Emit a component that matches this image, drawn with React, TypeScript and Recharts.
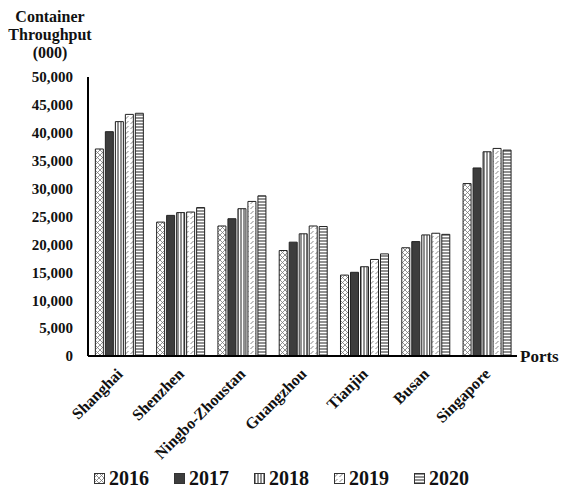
import React from "react";
import { BarChart, Bar, XAxis, YAxis, Legend } from "recharts";

// Container throughput per port (thousand TEU)
const PORTS = [
  "Shanghai",
  "Shenzhen",
  "Ningbo-Zhoustan",
  "Guangzhou",
  "Tianjin",
  "Busan",
  "Singapore",
];

const Y2016 = [37100, 24000, 23300, 18900, 14500, 19400, 30900];
const Y2017 = [40200, 25200, 24600, 20400, 15000, 20500, 33700];
const Y2018 = [42000, 25700, 26400, 21900, 16000, 21700, 36600];
const Y2019 = [43300, 25800, 27700, 23300, 17300, 22000, 37200];
const Y2020 = [43500, 26600, 28700, 23200, 18300, 21800, 36900];

const Y_TICKS = [0, 5000, 10000, 15000, 20000, 25000, 30000, 35000, 40000, 45000, 50000];

const SERIES = [
  { key: "y2016", name: "2016", fill: "url(#pat2016)" },
  { key: "y2017", name: "2017", fill: "#3d3d3d" },
  { key: "y2018", name: "2018", fill: "url(#pat2018)" },
  { key: "y2019", name: "2019", fill: "url(#pat2019)" },
  { key: "y2020", name: "2020", fill: "url(#pat2020)" },
];

const data = PORTS.map((port, i) => ({
  port,
  y2016: Y2016[i],
  y2017: Y2017[i],
  y2018: Y2018[i],
  y2019: Y2019[i],
  y2020: Y2020[i],
}));

const FONT = "'Liberation Serif', 'Times New Roman', serif";

// Hatch fills shared by the bars and the legend swatches
const Patterns = () => (
  <defs>
    <pattern id="pat2016" width="5" height="5" patternUnits="userSpaceOnUse">
      <rect width="5" height="5" fill="#fff" />
      <path d="M0,0 L5,5 M5,0 L0,5" stroke="#777" strokeWidth="0.8" />
    </pattern>
    <pattern id="pat2018" width="3" height="3" patternUnits="userSpaceOnUse">
      <rect width="3" height="3" fill="#fff" />
      <line x1="1" y1="0" x2="1" y2="3" stroke="#222" strokeWidth="1" />
    </pattern>
    <pattern id="pat2019" width="5" height="5" patternUnits="userSpaceOnUse">
      <rect width="5" height="5" fill="#fff" />
      <line x1="0.5" y1="4" x2="3.5" y2="1" stroke="#888" strokeWidth="1" />
    </pattern>
    <pattern id="pat2020" width="3" height="3" patternUnits="userSpaceOnUse">
      <rect width="3" height="3" fill="#fff" />
      <line x1="0" y1="1" x2="3" y2="1" stroke="#555" strokeWidth="1.3" />
    </pattern>
  </defs>
);

const PortTick = (props: any) => {
  const { x, y, payload } = props;
  const tx = x + 5;
  const ty = y + 17;
  return (
    <text
      x={tx}
      y={ty}
      transform={`rotate(-45, ${tx}, ${ty})`}
      textAnchor="end"
      fontFamily={FONT}
      fontWeight="bold"
      fontSize={16}
      fill="#111"
    >
      {payload.value}
    </text>
  );
};

const YTitle = (props: any) => {
  const { viewBox } = props;
  const cx = 50;
  const top = viewBox.y - 55;
  return (
    <text fontFamily={FONT} fontWeight="bold" fontSize={16} fill="#111" textAnchor="middle">
      <tspan x={cx} y={top}>Container</tspan>
      <tspan x={cx} y={top + 18}>Throughput</tspan>
      <tspan x={cx} y={top + 36}>(000)</tspan>
    </text>
  );
};

const PortsLabel = (props: any) => {
  const { viewBox } = props;
  return (
    <text
      x={viewBox.x + viewBox.width + 3}
      y={viewBox.y + 6}
      fontFamily={FONT}
      fontWeight="bold"
      fontSize={17}
      fill="#111"
    >
      Ports
    </text>
  );
};

const renderLegend = () => (
  <div
    style={{
      display: "flex",
      justifyContent: "center",
      gap: 25,
      fontFamily: FONT,
      fontWeight: "bold",
      fontSize: 20,
      color: "#111",
    }}
  >
    {SERIES.map((s) => (
      <div key={s.key} style={{ display: "flex", alignItems: "center" }}>
        <svg width={11} height={11} style={{ marginRight: 4 }}>
          <rect x={0.5} y={0.5} width={10} height={10} fill={s.fill} stroke="#333" strokeWidth={1} />
        </svg>
        <span>{s.name}</span>
      </div>
    ))}
  </div>
);

export default function App() {
  return (
    <div style={{ position: "absolute", left: 0, top: 0, width: 563, height: 491, background: "#fff" }}>
      <BarChart
        width={563}
        height={491}
        data={data}
        margin={{ top: 77, right: 46, bottom: 55, left: 0 }}
        barCategoryGap="12%"
        barGap={2}
      >
        <Patterns />
        <XAxis
          dataKey="port"
          interval={0}
          height={80}
          tickLine={false}
          tickSize={0}
          axisLine={{ stroke: "#000", strokeWidth: 2 }}
          tick={<PortTick />}
          label={{ content: <PortsLabel /> }}
        />
        <YAxis
          width={88}
          domain={[0, 50000]}
          ticks={Y_TICKS}
          interval={0}
          tickLine={false}
          tickSize={0}
          tickMargin={15}
          axisLine={{ stroke: "#000", strokeWidth: 2 }}
          tickFormatter={(v: number) => v.toLocaleString("en-US")}
          tick={{ fontFamily: FONT, fontWeight: "bold", fontSize: 15, fill: "#111" }}
          label={{ content: <YTitle /> }}
        />
        <Legend
          layout="horizontal"
          verticalAlign="middle"
          align="center"
          content={renderLegend}
          wrapperStyle={{ top: 467, left: 0, width: 563 }}
        />
        {SERIES.map((s) => (
          <Bar
            key={s.key}
            dataKey={s.key}
            name={s.name}
            fill={s.fill}
            stroke="#222"
            strokeWidth={1}
            isAnimationActive={false}
          />
        ))}
      </BarChart>
    </div>
  );
}
